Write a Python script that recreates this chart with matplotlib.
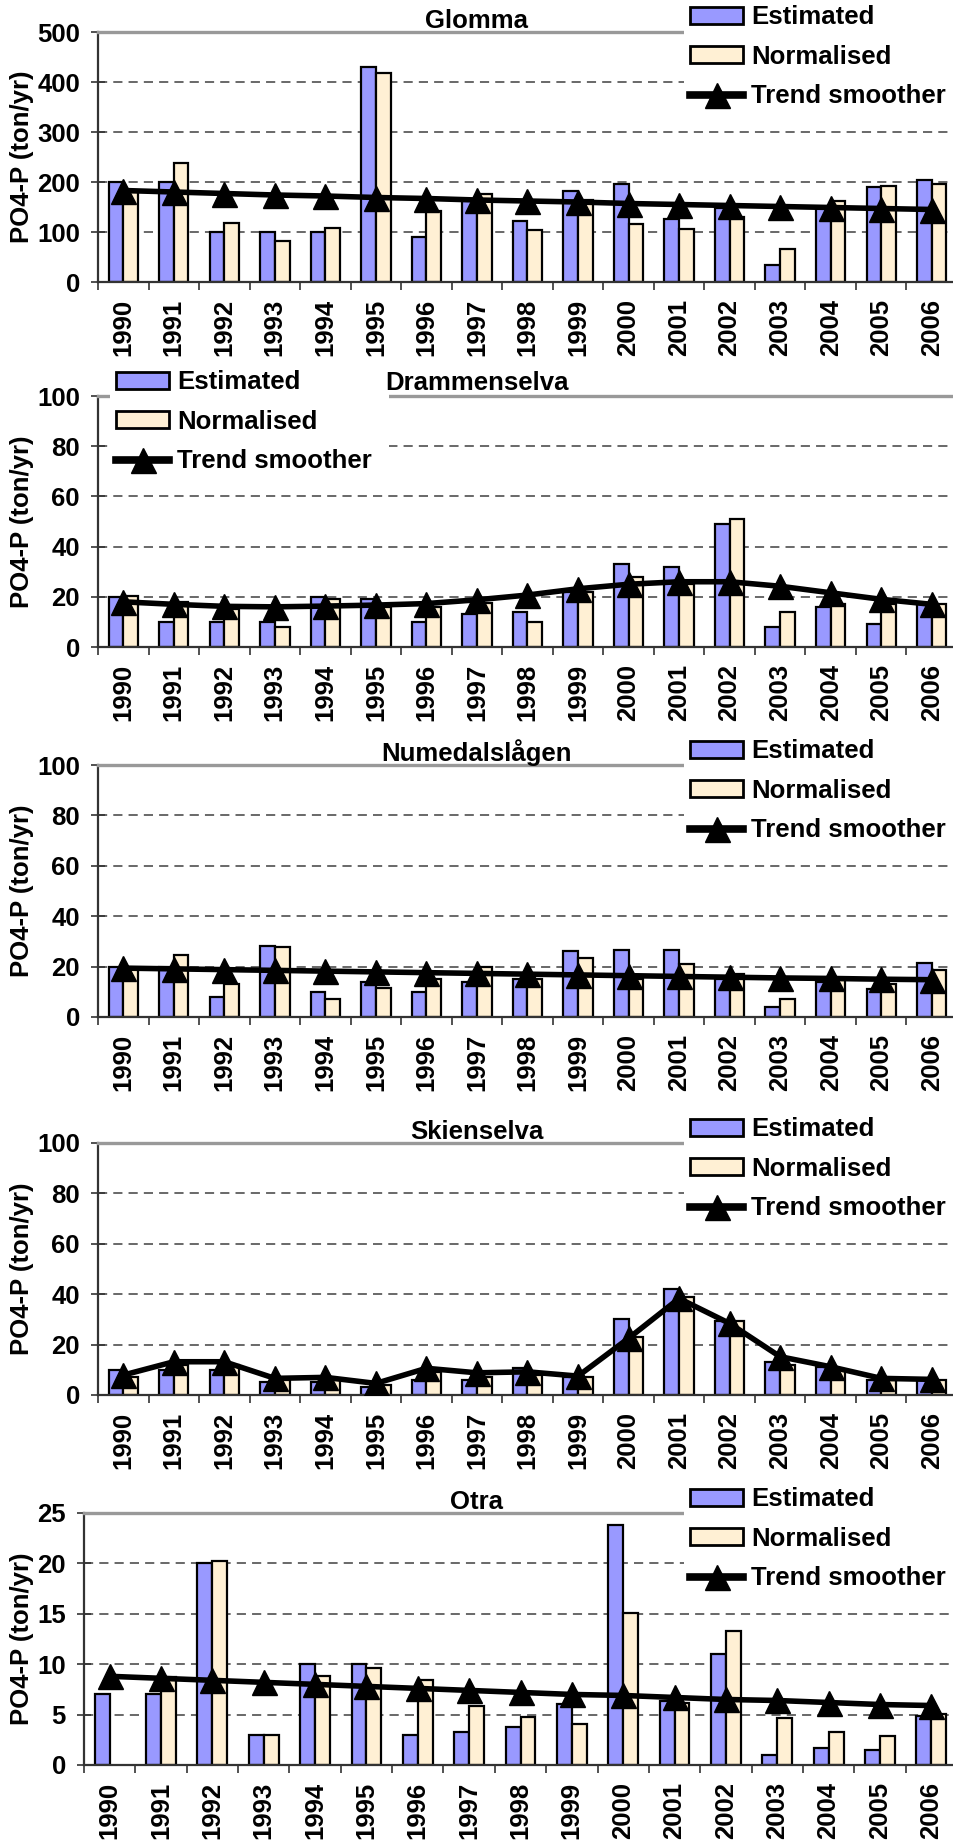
import numpy as np
import matplotlib
matplotlib.use("Agg")
import matplotlib.pyplot as plt
from matplotlib.patches import Patch
from matplotlib.lines import Line2D

# ---- data ----
years = list(range(1990, 2007))
series_names = ["Estimated", "Normalised", "Trend smoother"]
y_label = "PO4-P (ton/yr)"

glomma_est = [200, 200, 100, 100, 100, 430, 90, 165, 122, 182, 196, 127, 148, 34, 150, 191, 204]
glomma_norm = [180, 238, 119, 82, 109, 418, 142, 177, 104, 164, 117, 107, 131, 66, 162, 193, 197]
glomma_trend = [183, 180, 177, 174, 172, 169, 167, 164, 162, 160, 157, 155, 153, 151, 149, 147, 145]

dramm_est = [20, 10, 10, 10, 20, 19, 10, 13, 14, 22, 33, 32, 49, 8, 16, 9, 17]
dramm_norm = [20.5, 18, 15, 8, 19, 16, 16, 17.5, 10, 22, 28, 25, 51, 14, 17, 17, 17]
dramm_trend = [18, 17, 16.2, 16, 16.3, 16.7, 17.3, 18.8, 20.7, 23.2, 25, 26, 26, 24.2, 21.6, 19, 17]

numed_est = [20, 20, 8, 28, 10, 14, 10, 14, 15, 26, 26.7, 26.7, 15, 4, 14, 11, 21.5]
numed_norm = [19, 24.8, 13, 27.6, 7, 11.5, 15, 19.7, 15, 23.5, 15, 21, 17, 7, 15, 13, 18.8]
numed_trend = [19.4, 19.1, 18.8, 18.5, 18.2, 17.9, 17.6, 17.3, 17.0, 16.7, 16.4, 16.1, 15.8, 15.5, 15.3, 15.0, 14.8]

skien_est = [10, 10, 10, 5, 5, 3, 6, 6, 10.6, 7, 30, 42, 29.3, 13, 11, 6, 6]
skien_norm = [7, 12, 12, 6, 6, 4, 9, 7, 8, 7, 23, 39, 29.3, 12, 10, 6, 6]
skien_trend = [7.9, 13.2, 13.2, 6.6, 7, 4.6, 10.6, 8.8, 9.2, 7.5, 22.5, 38.3, 28.4, 15.2, 11.2, 6.6, 6.2]

otra_est = [7, 7, 20, 3, 10, 10, 3, 3.3, 3.8, 6.1, 23.8, 6.3, 11, 1, 1.65, 1.45, 4.9]
otra_norm = [np.nan, 8.7, 20.2, 3, 8.8, 9.6, 8.4, 5.9, 4.8, 4.1, 15.1, 6.2, 13.3, 4.7, 3.3, 2.9, 5.1]
otra_trend = [8.8, 8.6, 8.4, 8.2, 8.0, 7.8, 7.6, 7.4, 7.2, 7.0, 6.9, 6.7, 6.5, 6.4, 6.2, 6.0, 5.9]

rivers = ["Glomma", "Drammenselva", "Numedalslågen", "Skienselva", "Otra"]
est_all = [glomma_est, dramm_est, numed_est, skien_est, otra_est]
norm_all = [glomma_norm, dramm_norm, numed_norm, skien_norm, otra_norm]
trend_all = [glomma_trend, dramm_trend, numed_trend, skien_trend, otra_trend]
y_max = [500, 100, 100, 100, 25]
y_step = [100, 20, 20, 20, 5]

# ---- layout (pixels) ----
W, H = 954, 1841
# left, top, bottom, title y, legend side, legend first-row y
layout = [
    (98, 32, 282, 21, "right", 18),
    (98, 396, 647, 383, "left", 383),
    (98, 765, 1017, 753, "right", 752),
    (98, 1143, 1395, 1132, "right", 1130),
    (84, 1513, 1765, 1502, "right", 1500),
]
right_px = 957

plt.rcParams["font.family"] = ["Liberation Sans", "DejaVu Sans"]
plt.rcParams["font.weight"] = "bold"

blue = "#9999FF"
cream = "#FFF0D4"
fs = 18.5

fig = plt.figure(figsize=(W / 100, H / 100), dpi=100)
x = np.arange(len(years))
bw = 0.29

for i, name in enumerate(rivers):
    left, top, bottom, title_y, side, row1 = layout[i]
    ax = fig.add_axes([left / W, 1 - bottom / H, (right_px - left) / W, (bottom - top) / H])

    ax.bar(x - bw / 2, est_all[i], bw, color=blue, edgecolor="black", linewidth=1.6, zorder=2)
    ax.bar(x + bw / 2, norm_all[i], bw, color=cream, edgecolor="black", linewidth=1.6, zorder=2)
    ax.plot(x, trend_all[i], color="black", lw=4, marker="^", ms=18, zorder=4)

    ax.set_xlim(-0.5, len(years) - 0.5)
    ax.set_ylim(0, y_max[i])
    ax.set_yticks(np.arange(0, y_max[i] + 0.1, y_step[i]))
    ax.set_xticks(x)
    ax.set_xticklabels([str(y) for y in years], rotation=90, fontsize=fs, fontweight="bold")
    ax.set_xticks(np.arange(-0.5, len(years), 1), minor=True)
    ax.tick_params(axis="x", which="major", length=0, pad=12)
    ax.tick_params(axis="x", which="minor", direction="out", length=6, width=1.2, color="#333333")
    ax.tick_params(axis="y", direction="inout", length=10, width=1.2, color="#333333", pad=8, labelsize=fs)
    for lab in ax.get_yticklabels():
        lab.set_fontweight("bold")

    ax.set_axisbelow(True)
    ax.yaxis.grid(True, linestyle=(0, (6, 4)), color="#404040", lw=1.1)
    ax.spines["right"].set_visible(False)
    ax.spines["top"].set_color("#999999")
    ax.spines["top"].set_linewidth(2.4)
    ax.spines["left"].set_color("#333333")
    ax.spines["left"].set_linewidth(1.6)
    ax.spines["bottom"].set_color("#333333")
    ax.spines["bottom"].set_linewidth(1.6)

    fig.text(22 / W, 1 - (top + bottom) / 2 / H, y_label, rotation=90,
             ha="center", va="center", fontsize=fs, fontweight="bold")
    fig.text(477 / W, 1 - title_y / H, name, ha="center", va="center",
             fontsize=fs, fontweight="bold")

    handles = [Patch(facecolor=blue, edgecolor="black", linewidth=2),
               Patch(facecolor=cream, edgecolor="black", linewidth=2),
               Line2D([], [], color="black", lw=5.5, marker="^", ms=18)]
    if side == "right":
        lx0, lx1 = 684, 960
    else:
        lx0, lx1 = 110, 389
    ltop = row1 - 19
    leg = ax.legend(handles, series_names, loc="upper left",
                    bbox_to_anchor=(lx0 / W, 1 - ltop / H - 0.001, (lx1 - lx0) / W, 0.001),
                    bbox_transform=fig.transFigure, mode="expand",
                    prop={"size": fs, "weight": "bold"}, frameon=True, fancybox=False,
                    borderpad=0.25, borderaxespad=0, handlelength=2.05, handleheight=0.62,
                    handletextpad=0.3, labelspacing=0.6, numpoints=1)
    leg.get_frame().set_facecolor("white")
    leg.get_frame().set_edgecolor("none")
    leg.get_frame().set_alpha(1)

fig.savefig("out.png", dpi=100)
